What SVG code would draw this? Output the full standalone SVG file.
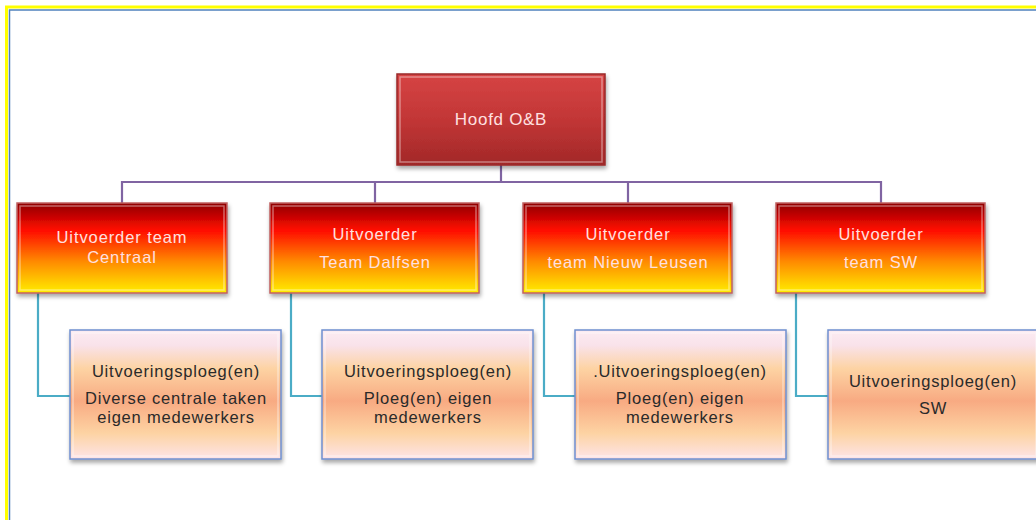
<svg xmlns="http://www.w3.org/2000/svg" width="1036" height="520" viewBox="0 0 1036 520">
<defs>
<linearGradient id="gTop" x1="0" y1="0" x2="0" y2="1">
<stop offset="0" stop-color="#d64444"/><stop offset="0.5" stop-color="#c23636"/><stop offset="1" stop-color="#a22828"/>
</linearGradient>
<linearGradient id="gMid" x1="0" y1="0" x2="0" y2="1">
<stop offset="0" stop-color="#8e0000"/><stop offset="0.3" stop-color="#ff0a00"/><stop offset="0.65" stop-color="#ff8a00"/><stop offset="1" stop-color="#ffee00"/>
</linearGradient>
<linearGradient id="gLow" x1="0" y1="0" x2="0" y2="1">
<stop offset="0" stop-color="#fcecf2"/><stop offset="0.12" stop-color="#f9e2ea"/><stop offset="0.3" stop-color="#fdd3a3"/><stop offset="0.55" stop-color="#f8aa82"/><stop offset="0.8" stop-color="#fdd3a3"/><stop offset="1" stop-color="#fde4e8"/>
</linearGradient>
<filter id="sh" x="-10%" y="-10%" width="125%" height="130%">
<feDropShadow dx="1" dy="3" stdDeviation="2" flood-color="#000" flood-opacity="0.35"/>
</filter>
</defs>
<style>
.top{fill:url(#gTop);stroke:#9a2a2a;stroke-width:1.5}
.mid{fill:url(#gMid);stroke:#c06060;stroke-width:1.5}
.low{fill:url(#gLow);stroke:#6f8fcf;stroke-width:1.5}
.hl{fill:none;stroke:#ffffff;stroke-opacity:0.4;stroke-width:1.5}
.tw{font-family:"Liberation Sans",Arial,sans-serif;font-size:16.5px;letter-spacing:0.9px;fill:#ffe0e0;text-anchor:middle}
.td{font-family:"Liberation Sans",Arial,sans-serif;font-size:16.5px;letter-spacing:0.8px;fill:#2a2a2a;text-anchor:middle}
.cp{fill:none;stroke:#8064a2;stroke-width:2.2}
.ct{fill:none;stroke:#4bacc6;stroke-width:2.2}
</style>
<rect width="1036" height="520" fill="#ffffff"/>
<path d="M6.5 520 V7 H1036" fill="none" stroke="#ffff00" stroke-width="3"/>
<path d="M9.5 520 V10 H1036" fill="none" stroke="#4f81bd" stroke-width="1.5"/>
<g id="connectors">
<path class="cp" d="M501 165 V182 M122 203 V182 H881 V203 M375 182 V203 M628 182 V203"/>
<path class="ct" d="M38 293 V396 H70 M291 293 V396 H322 M544 293 V396 H575 M796 293 V396 H828"/>
</g>
<g id="hoofd">
<rect class="top" x="397" y="74" width="208" height="91" filter="url(#sh)"/>
<rect class="hl" x="400" y="77" width="202" height="85"/>
<text class="tw" x="501" y="125" style="font-size:17px;letter-spacing:0.7px">Hoofd O&amp;B</text>
</g>
<g id="uitv-centraal">
<rect class="mid" x="17" y="203" width="210" height="90" filter="url(#sh)"/>
<rect class="hl" x="20" y="206" width="204" height="84"/>
<text class="tw" x="122" y="243">Uitvoerder team</text>
<text class="tw" x="122" y="263">Centraal</text>
</g>
<g id="uitv-dalfsen">
<rect class="mid" x="270" y="203" width="209" height="90" filter="url(#sh)"/>
<rect class="hl" x="273" y="206" width="203" height="84"/>
<text class="tw" x="375" y="240">Uitvoerder</text>
<text class="tw" x="375" y="268">Team  Dalfsen</text>
</g>
<g id="uitv-nieuwleusen">
<rect class="mid" x="523" y="203" width="209" height="90" filter="url(#sh)"/>
<rect class="hl" x="526" y="206" width="203" height="84"/>
<text class="tw" x="628" y="240">Uitvoerder</text>
<text class="tw" x="628" y="268">team Nieuw  Leusen</text>
</g>
<g id="uitv-sw">
<rect class="mid" x="776" y="203" width="209" height="90" filter="url(#sh)"/>
<rect class="hl" x="779" y="206" width="203" height="84"/>
<text class="tw" x="881" y="240">Uitvoerder</text>
<text class="tw" x="881" y="268">team SW</text>
</g>
<g id="ploeg-centraal">
<rect class="low" x="70" y="330" width="211" height="129" filter="url(#sh)"/>
<rect class="hl" x="73" y="333" width="205" height="123" stroke-opacity="0.8"/>
<text class="td" x="176" y="377">Uitvoeringsploeg(en)</text>
<text class="td" x="176" y="404">Diverse centrale taken</text>
<text class="td" x="176" y="423">eigen medewerkers</text>
</g>
<g id="ploeg-dalfsen">
<rect class="low" x="322" y="330" width="211" height="129" filter="url(#sh)"/>
<rect class="hl" x="325" y="333" width="205" height="123" stroke-opacity="0.8"/>
<text class="td" x="428" y="377">Uitvoeringsploeg(en)</text>
<text class="td" x="428" y="404">Ploeg(en) eigen</text>
<text class="td" x="428" y="423">medewerkers</text>
</g>
<g id="ploeg-nieuwleusen">
<rect class="low" x="575" y="330" width="211" height="129" filter="url(#sh)"/>
<rect class="hl" x="578" y="333" width="205" height="123" stroke-opacity="0.8"/>
<text class="td" x="680" y="377">.Uitvoeringsploeg(en)</text>
<text class="td" x="680" y="404">Ploeg(en) eigen</text>
<text class="td" x="680" y="423">medewerkers</text>
</g>
<g id="ploeg-sw">
<rect class="low" x="828" y="330" width="211" height="129" filter="url(#sh)"/>
<rect class="hl" x="831" y="333" width="205" height="123" stroke-opacity="0.8"/>
<text class="td" x="933" y="387">Uitvoeringsploeg(en)</text>
<text class="td" x="933" y="414">SW</text>
</g>
</svg>
